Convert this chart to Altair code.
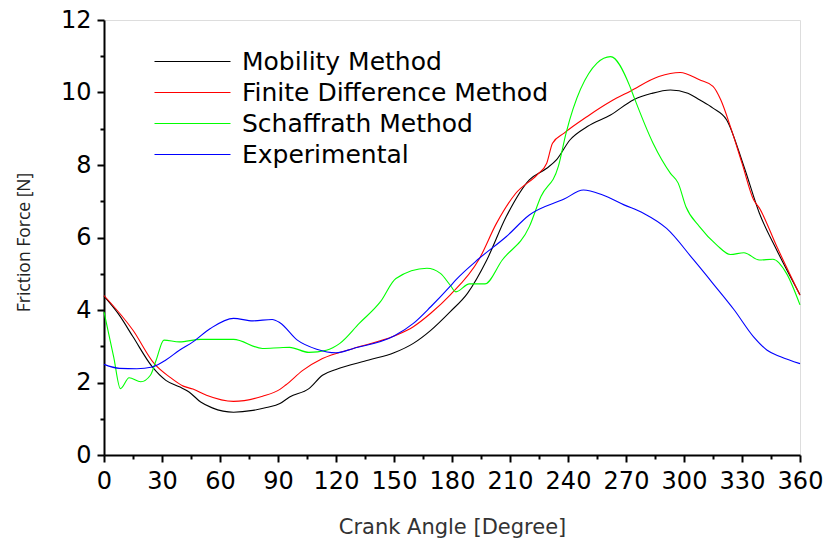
import altair as alt
import pandas as pd

series_names = ["Mobility Method", "Finite Difference Method", "Schaffrath Method", "Experimental"]
series_colors = ["#000000", "#ff0000", "#00ff00", "#0000ff"]

mob_angle = [0, 8, 15, 25, 32, 39, 44, 50, 56, 67, 77, 84, 91, 96, 106, 113, 120, 137, 150, 160, 169, 179,
             188, 198, 208, 220, 229, 234, 241, 250, 262, 274, 283, 293, 302, 308, 315, 322, 331, 339, 348, 360]
mob_force = [4.38, 3.85, 3.26, 2.43, 2.06, 1.88, 1.74, 1.46, 1.30, 1.18, 1.23, 1.31, 1.42, 1.60, 1.83, 2.20,
             2.36, 2.62, 2.82, 3.08, 3.44, 3.95, 4.46, 5.38, 6.57, 7.59, 7.91, 8.14, 8.69, 9.06, 9.38, 9.80,
             9.97, 10.07, 9.98, 9.80, 9.57, 9.25, 7.96, 6.67, 5.65, 4.42]

fdm_angle = [0, 15, 26, 34, 41, 46, 53, 67, 82, 91, 94, 103, 113, 129, 150, 160, 169, 179, 194, 203, 213,
             224, 229, 232, 238, 250, 262, 272, 287, 298, 308, 315, 319, 324, 330, 336, 339, 348, 360]
fdm_force = [4.40, 3.44, 2.52, 2.15, 1.90, 1.82, 1.65, 1.48, 1.62, 1.81, 1.93, 2.34, 2.66, 2.94, 3.28, 3.54,
             3.91, 4.41, 5.40, 6.39, 7.22, 7.73, 8.05, 8.60, 8.88, 9.34, 9.75, 10.03, 10.44, 10.55, 10.35,
             10.17, 9.80, 9.06, 8.05, 7.04, 6.81, 5.75, 4.41]

sch_angle = [0, 5, 8.5, 13, 19, 24, 27, 31, 39, 50, 67, 82, 91, 96, 106, 115, 122, 132, 143, 151, 167, 174,
             179, 182, 189, 197, 206, 220, 226, 235, 239, 255, 262, 272, 274, 284, 293, 297, 301, 308, 317,
             324, 331, 339, 346, 353, 360]
sch_force = [3.95, 2.71, 1.83, 2.13, 2.02, 2.20, 2.62, 3.17, 3.12, 3.19, 3.19, 2.94, 2.96, 2.97, 2.83, 2.89,
             3.08, 3.63, 4.23, 4.87, 5.15, 5.01, 4.69, 4.50, 4.72, 4.72, 5.38, 6.30, 7.13, 7.96, 8.88, 10.81,
             10.99, 10.17, 9.89, 8.60, 7.77, 7.50, 6.85, 6.30, 5.79, 5.53, 5.58, 5.38, 5.40, 5.01, 4.14]

exp_angle = [0, 8, 17, 25, 32, 39, 46, 55, 67, 77, 87, 91, 100, 110, 120, 129, 150, 160, 169, 179, 182, 194,
             208, 220, 238, 248, 258, 269, 279, 291, 305, 315, 326, 336, 343, 350, 360]
exp_force = [2.50, 2.39, 2.38, 2.43, 2.62, 2.89, 3.12, 3.49, 3.77, 3.70, 3.74, 3.65, 3.17, 2.92, 2.82, 2.94,
             3.28, 3.63, 4.09, 4.65, 4.83, 5.42, 6.02, 6.62, 7.06, 7.31, 7.17, 6.90, 6.67, 6.25, 5.38, 4.73,
             4.00, 3.26, 2.89, 2.71, 2.52]

x_ticks = list(range(0, 361, 15))
y_ticks = list(range(0, 13, 1))

rows = []
for name, angs, vals in zip(series_names,
                            [mob_angle, fdm_angle, sch_angle, exp_angle],
                            [mob_force, fdm_force, sch_force, exp_force]):
    for a, v in zip(angs, vals):
        rows.append({"angle": a, "force": v, "series": name})
df = pd.DataFrame(rows)

x_axis = alt.Axis(
    values=x_ticks,
    labelExpr="datum.value % 30 === 0 ? datum.label : ''",
    tickSize={"condition": {"test": "datum.value % 30 === 0", "value": 7}, "value": 4},
    title="Crank Angle [Degree]",
    titleFont="DejaVu Sans", titleFontSize=21, titleFontWeight="normal", titleColor="#333333",
    titleY=72, titleBaseline="middle",
    labelFont="DejaVu Sans", labelFontSize=24, labelColor="#000000", labelPadding=7,
    labelOverlap=False, labelFlush=False,
    domainColor="#000000", domainWidth=2, tickColor="#000000", tickWidth=2, grid=False,
)
y_axis = alt.Axis(
    values=y_ticks,
    labelExpr="datum.value % 2 === 0 ? datum.label : ''",
    tickSize={"condition": {"test": "datum.value % 2 === 0", "value": 7}, "value": 4},
    title="Friction Force [N]",
    titleFont="Open Sans", titleFontSize=17.5, titleFontWeight="normal", titleColor="#222222",
    titleX=-80, titleY=222, titleAngle=-90, titleBaseline="middle",
    labelFont="DejaVu Sans", labelFontSize=24, labelColor="#000000", labelPadding=6,
    labelOverlap=False, labelFlush=False,
    domainColor="#000000", domainWidth=2, tickColor="#000000", tickWidth=2, grid=False,
)

chart = alt.Chart(df).mark_line(strokeWidth=1.1, interpolate="monotone").encode(
    x=alt.X("angle:Q", scale=alt.Scale(domain=[0, 360], nice=False), axis=x_axis),
    y=alt.Y("force:Q", scale=alt.Scale(domain=[0, 12], nice=False), axis=y_axis),
    color=alt.Color(
        "series:N",
        scale=alt.Scale(domain=series_names, range=series_colors),
        legend=alt.Legend(
            title=None, orient="none", legendX=76, legendY=29,
            symbolType="M-4,0H4", symbolSize=361, symbolStrokeWidth=1.1,
            labelFont="DejaVu Sans", labelFontSize=25, labelColor="#000000",
            labelLimit=500, labelOffset=37, rowPadding=5,
        ),
    ),
    order=alt.Order("angle:Q"),
).properties(
    width=696, height=435,
    autosize=alt.AutoSizeParams(type="none"),
    padding={"left": 104, "top": 20, "right": 26, "bottom": 83},
).configure_view(stroke=None).configure(background="#ffffff")

chart.save("out.html", embed_options={"renderer": "svg", "actions": False})
